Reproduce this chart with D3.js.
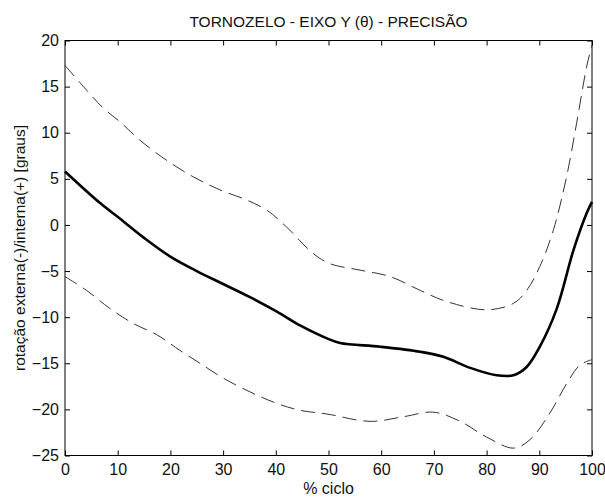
<!DOCTYPE html>
<html>
<head>
<meta charset="utf-8">
<script src="https://cdn.jsdelivr.net/npm/d3@7"></script>
<style>
  body { margin: 0; background: #fff; }
  text { font-family: "Liberation Sans", Arial, sans-serif; fill: #111; }
</style>
</head>
<body>
<svg id="chart"></svg>
<script>
// % ciclo and values
const meanX = [0, 6.6, 10.4, 15, 19.9, 25, 30, 35, 40.2, 44.6, 49.7, 52.2, 59.8, 67.4, 71.8, 76.9, 81.9, 85.1, 87.6, 90.1, 93.3, 96.5, 99, 100];
const meanY = [5.8, 2.4, 0.7, -1.4, -3.4, -5.0, -6.4, -7.8, -9.4, -10.9, -12.3, -12.8, -13.2, -13.75, -14.3, -15.5, -16.3, -16.3, -15.4, -13.2, -9.1, -2.7, 1.3, 2.5];

const upperX = [0, 3.5, 7.3, 10.4, 14.2, 19.3, 24.4, 29.4, 34.5, 38.3, 42, 47.1, 50.3, 56, 61.7, 67.4, 72.4, 80, 85.1, 87.6, 90.1, 92.7, 95.2, 97.1, 99, 100];
const upperY = [17.3, 15.0, 12.65, 11.2, 9.2, 7.0, 5.2, 3.8, 2.7, 1.6, -0.2, -3.1, -4.2, -4.9, -5.6, -7.1, -8.3, -9.2, -8.5, -7.1, -4.5, -0.5, 5.3, 11.1, 17.2, 19.5];

const lowerX = [0, 4.1, 8.5, 13, 17.4, 21.8, 25.6, 30, 35.1, 40.2, 44.6, 49.7, 57.9, 64.2, 69.9, 75, 80, 85.1, 88.2, 92, 95.2, 97.7, 100];
const lowerY = [-5.6, -7.1, -9.05, -10.7, -11.9, -13.6, -15.0, -16.6, -18.1, -19.35, -20.1, -20.5, -21.3, -20.8, -20.3, -21.3, -23.0, -24.2, -23.3, -20.4, -17.2, -15.2, -14.6];

const xTicks = [0, 10, 20, 30, 40, 50, 60, 70, 80, 90, 100];
const yTicks = [20, 15, 10, 5, 0, -5, -10, -15, -20, -25];

const width = 605, height = 498;
const plotL = 65, plotR = 592, plotT = 40.5, plotB = 455.5;

const svg = d3.select("#chart")
    .attr("width", width)
    .attr("height", height);

const x = d3.scaleLinear().domain([0, 100]).range([plotL, plotR]);
const y = d3.scaleLinear().domain([-25, 20]).range([plotB, plotT]);

// frame
svg.append("rect")
    .attr("x", plotL).attr("y", plotT)
    .attr("width", plotR - plotL).attr("height", plotB - plotT)
    .attr("fill", "none").attr("stroke", "#000").attr("stroke-width", 1);

// axes, ticks inward like matlab
const xAxis = d3.axisBottom(x).tickValues(xTicks).tickSizeInner(-5).tickSizeOuter(0).tickPadding(8);
const xAxisTop = d3.axisTop(x).tickValues(xTicks).tickSizeInner(-5).tickSizeOuter(0).tickFormat("");
const yAxis = d3.axisLeft(y).tickValues(yTicks).tickSizeInner(-5).tickSizeOuter(0).tickPadding(6);
const yAxisRight = d3.axisRight(y).tickValues(yTicks).tickSizeInner(-5).tickSizeOuter(0).tickFormat("");

function style(g) {
    g.select(".domain").remove();
    g.selectAll(".tick line").attr("stroke", "#000");
    g.selectAll("text").attr("font-size", 16).attr("fill", "#111")
        .attr("font-family", "'Liberation Sans', Arial, sans-serif");
}

svg.append("g").attr("transform", `translate(0,${plotB})`).call(xAxis).call(style);
svg.append("g").attr("transform", `translate(0,${plotT})`).call(xAxisTop).call(style);
svg.append("g").attr("transform", `translate(${plotL},0)`).call(yAxis).call(style);
svg.append("g").attr("transform", `translate(${plotR},0)`).call(yAxisRight).call(style);

const line = d3.line()
    .x(d => x(d[0]))
    .y(d => y(d[1]))
    .curve(d3.curveCatmullRom.alpha(0.5));

const mean = d3.zip(meanX, meanY);
const upper = d3.zip(upperX, upperY);
const lower = d3.zip(lowerX, lowerY);

svg.append("path")
    .attr("d", line(upper))
    .attr("fill", "none")
    .attr("stroke", "#333")
    .attr("stroke-width", 1)
    .attr("stroke-dasharray", "14,7");

svg.append("path")
    .attr("d", line(lower))
    .attr("fill", "none")
    .attr("stroke", "#333")
    .attr("stroke-width", 1)
    .attr("stroke-dasharray", "14,7");

svg.append("path")
    .attr("d", line(mean))
    .attr("fill", "none")
    .attr("stroke", "#000")
    .attr("stroke-width", 2.6);

// title and labels
svg.append("text")
    .attr("x", (plotL + plotR) / 2).attr("y", 27)
    .attr("text-anchor", "middle")
    .attr("font-size", 15.5)
    .text("TORNOZELO - EIXO Y (θ) - PRECISÃO");

svg.append("text")
    .attr("x", (plotL + plotR) / 2).attr("y", 494)
    .attr("text-anchor", "middle")
    .attr("font-size", 16)
    .text("% ciclo");

svg.append("text")
    .attr("transform", `translate(25,${(plotT + plotB) / 2}) rotate(-90)`)
    .attr("text-anchor", "middle")
    .attr("font-size", 15.5)
    .text("rotação externa(-)/interna(+) [graus]");
</script>
</body>
</html>
